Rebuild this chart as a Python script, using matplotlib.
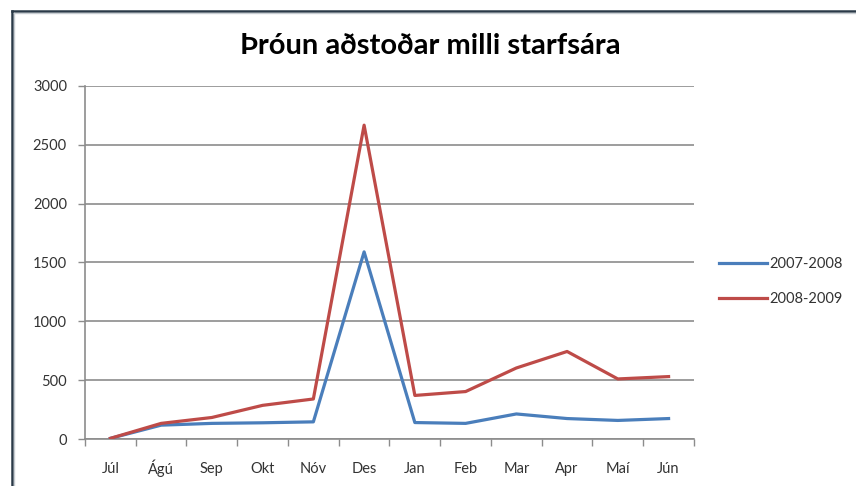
import matplotlib.pyplot as plt
import numpy as np
from matplotlib.lines import Line2D

plt.rcParams['font.family'] = ['Lato', 'DejaVu Sans']

months = ['Júl', 'Ágú', 'Sep', 'Okt', 'Nóv', 'Des', 'Jan', 'Feb', 'Mar', 'Apr', 'Maí', 'Jún']
s2007 = [8, 120, 135, 140, 148, 1590, 142, 135, 215, 176, 160, 176]
s2008 = [8, 135, 185, 288, 342, 2665, 372, 405, 605, 745, 512, 532]
series_labels = ['2007-2008', '2008-2009']
yticks = [0, 500, 1000, 1500, 2000, 2500, 3000]

blue = '#4a7ebb'
red = '#be4b48'
grid_col = '#8c8c8c'
text_col = '#333333'

fig = plt.figure(figsize=(8.56, 4.86), dpi=100)
ax = fig.add_axes([0.0993, 0.0961, 0.7114, 0.7276])

x = np.arange(len(months))
ax.plot(x, s2007, color=blue, lw=2.3, label=series_labels[0], zorder=3)
ax.plot(x, s2008, color=red, lw=2.3, label=series_labels[1], zorder=3)

ax.set_xlim(-0.5, len(months) - 0.5)
ax.set_ylim(0, 3000)
ax.set_yticks(yticks)
ax.set_yticklabels([str(v) for v in yticks])
ax.yaxis.grid(True, color=grid_col, lw=1.2)
ax.set_axisbelow(True)

# category labels centred, tick marks between categories
ax.set_xticks(np.arange(-0.5, len(months), 1.0))
ax.set_xticklabels([])
ax.set_xticks(x, minor=True)
ax.set_xticklabels(months, minor=True)
ax.tick_params(axis='x', which='major', length=5, color=grid_col, width=1)
ax.tick_params(axis='x', which='minor', length=0, pad=20, labelsize=10.5, labelcolor=text_col)
ax.tick_params(axis='y', length=5, color=grid_col, width=1, pad=8, labelsize=10.5, labelcolor=text_col)
for lbl in ax.get_xticklabels(minor=True):
    lbl.set_verticalalignment('center_baseline')

for s in ['top', 'right']:
    ax.spines[s].set_visible(False)
for s in ['left', 'bottom']:
    ax.spines[s].set_color(grid_col)
    ax.spines[s].set_linewidth(1.2)

fig.text(0.503, 0.905, 'Þróun aðstoðar milli starfsára', ha='center', va='center',
         fontsize=21, fontweight='bold', color='#000000')

handles = [Line2D([0], [0], color=blue, lw=2.3), Line2D([0], [0], color=red, lw=2.3)]
fig.legend(handles, series_labels, loc='center left', bbox_to_anchor=(0.825, 0.42),
           frameon=False, fontsize=10.5, handlelength=3.3, handletextpad=0.15,
           labelspacing=1.45, labelcolor=text_col)

# outer chart frame (top and left edges visible)
fig.add_artist(Line2D([11.5 / 856, 1.0], [1 - 11 / 486, 1 - 11 / 486], color='#2b3a48', lw=1.8,
                      transform=fig.transFigure))
fig.add_artist(Line2D([11.5 / 856, 11.5 / 856], [0.0, 1 - 11 / 486], color='#2b3a48', lw=1.8,
                      transform=fig.transFigure))
fig.add_artist(Line2D([14 / 856, 1.0], [1 - 13.5 / 486, 1 - 13.5 / 486], color='#c8cdd2', lw=1,
                      transform=fig.transFigure))
fig.add_artist(Line2D([14 / 856, 14 / 856], [0.0, 1 - 13.5 / 486], color='#c8cdd2', lw=1,
                      transform=fig.transFigure))

fig.savefig('out.png', dpi=100)
